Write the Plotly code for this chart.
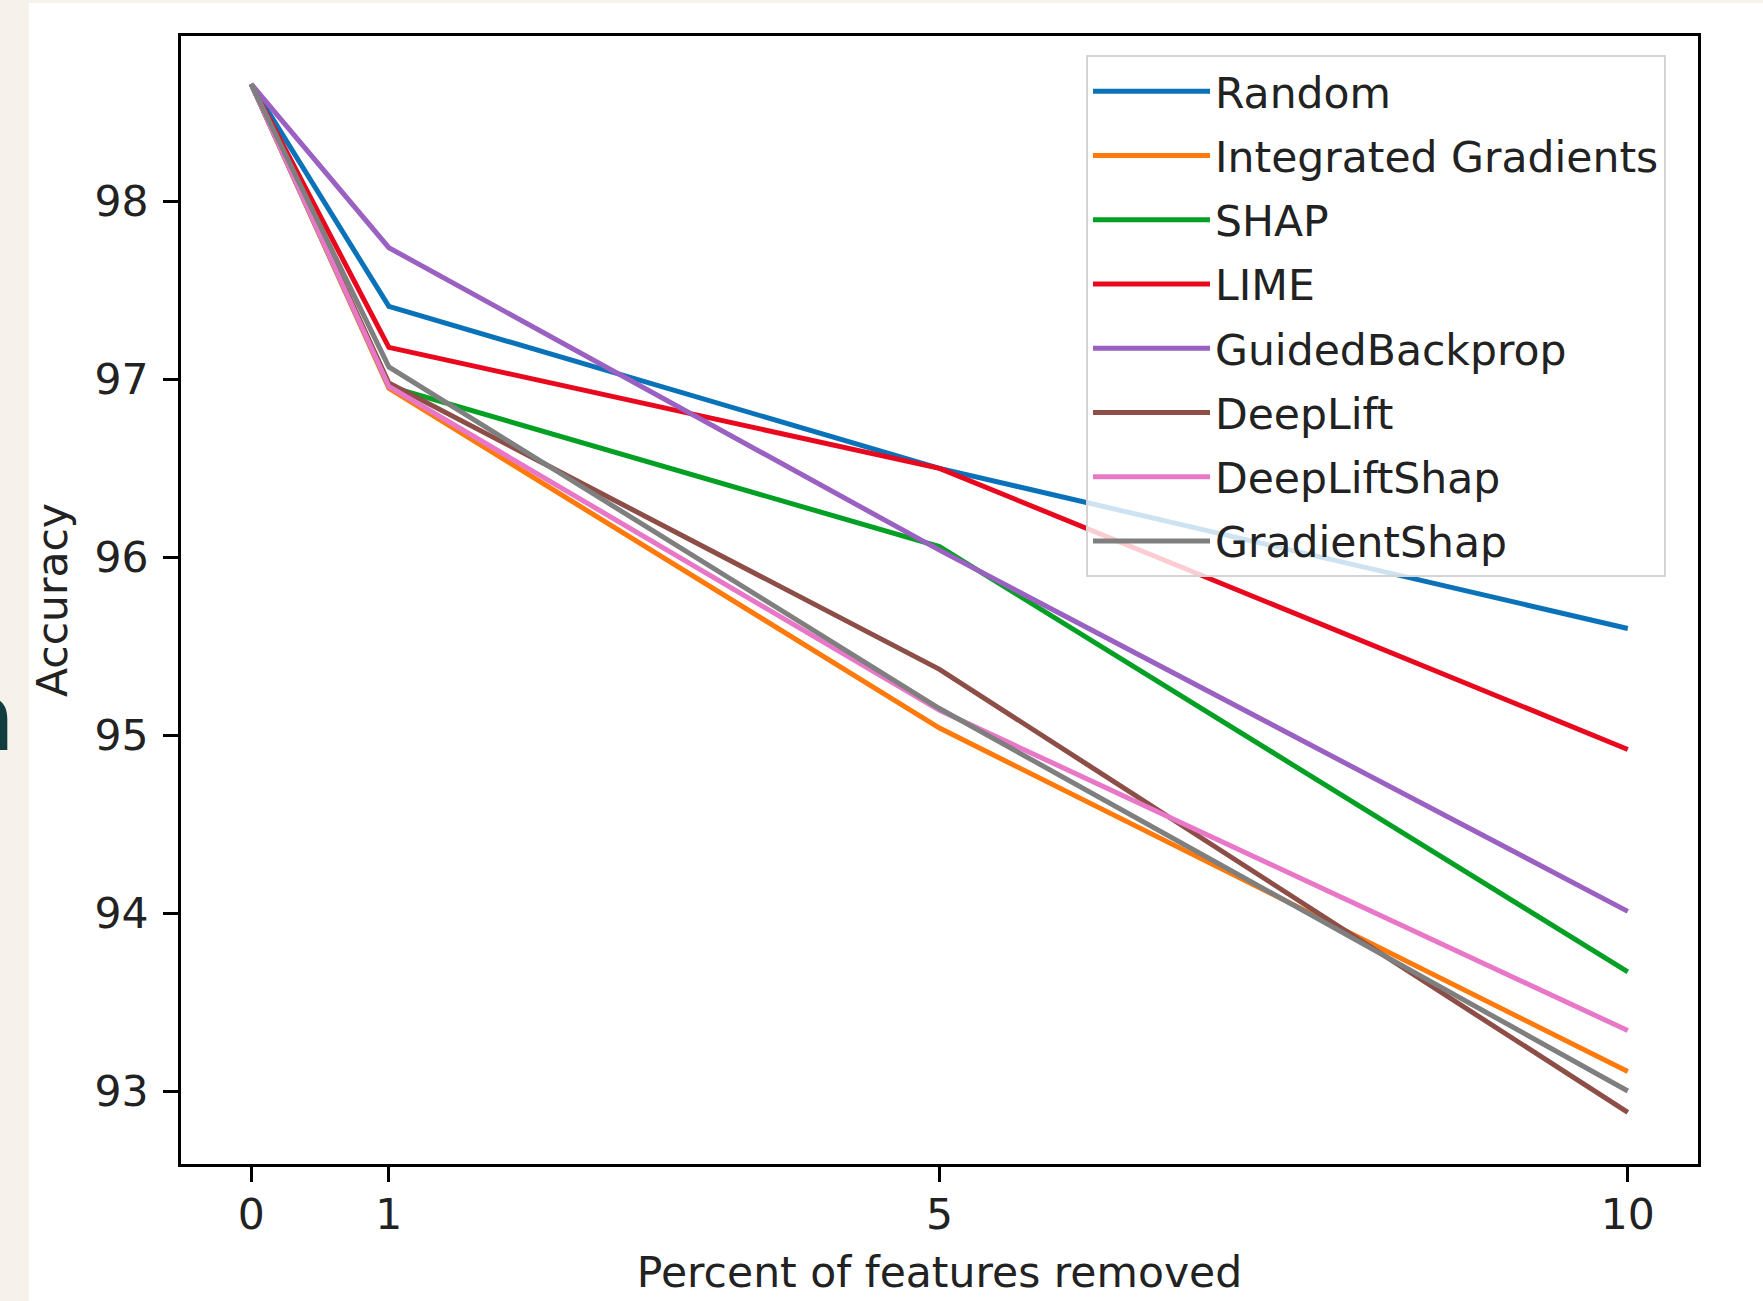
import plotly.graph_objects as go

# ---- data ----
percent_removed = [0, 1, 5, 10]
random_acc = [98.66, 97.41, 96.50, 95.60]
integrated_gradients = [98.66, 96.95, 95.04, 93.11]
shap_acc = [98.66, 96.96, 96.06, 93.67]
lime_acc = [98.66, 97.18, 96.50, 94.92]
guided_backprop = [98.66, 97.74, 96.04, 94.01]
deeplift = [98.66, 96.98, 95.37, 92.88]
deeplift_shap = [98.66, 96.96, 95.14, 93.34]
gradient_shap = [98.66, 97.07, 95.15, 93.00]

series_names = ["Random", "Integrated Gradients", "SHAP", "LIME",
                "GuidedBackprop", "DeepLift", "DeepLiftShap", "GradientShap"]
series_values = [random_acc, integrated_gradients, shap_acc, lime_acc,
                 guided_backprop, deeplift, deeplift_shap, gradient_shap]
series_colors = ["#0a72b9", "#ff7a0a", "#04a024", "#e8091f",
                 "#9a60c2", "#8c4e46", "#e877c8", "#7f7f7f"]
x_ticks = [0, 1, 5, 10]
y_ticks = [93, 94, 95, 96, 97, 98]

FONT = "DejaVu Sans"
FS = 42.5
BEIGE = "#f6f2eb"
W, H = 1763, 1301
L, R, T, B = 181, 65, 36, 137
pw, ph = W - L - R, H - T - B

fig = go.Figure()
for i, (name, vals, col) in enumerate(zip(series_names, series_values, series_colors)):
    fig.add_trace(go.Scatter(
        x=percent_removed, y=vals, mode="lines", name=name,
        line=dict(color=col, width=5), legendgroup=f"g{i}",
    ))

def px_x(p):
    return (p - L) / pw

def px_y(p):
    return (H - B - p) / ph

# white panel over beige page
fig.add_shape(type="rect", xref="paper", yref="paper", layer="below",
              x0=px_x(29), x1=px_x(1800), y0=px_y(1340), y1=px_y(3),
              fillcolor="white", line=dict(width=0))

# cropped glyph at left edge
fig.add_annotation(text="<b>n</b>", xref="paper", yref="paper",
                   x=px_x(17), y=px_y(718), xanchor="right", yanchor="middle",
                   showarrow=False, font=dict(family=FONT, size=92, color="#123d3e"))

axis_common = dict(
    showline=True, mirror=True, linecolor="black", linewidth=3,
    ticks="outside", ticklen=15, tickwidth=3, tickcolor="black",
    showgrid=False, zeroline=False,
    tickfont=dict(family=FONT, size=FS, color="#222222"),
)

fig.update_layout(
    width=W, height=H,
    margin=dict(l=L, r=R, t=T, b=B, autoexpand=False),
    paper_bgcolor=BEIGE, plot_bgcolor="white",
    font=dict(family=FONT, color="#222222"),
    showlegend=True,
    legend=dict(
        x=px_x(1086), y=px_y(55), xanchor="left", yanchor="top",
        bgcolor="rgba(255,255,255,0.8)", bordercolor="#d4d4d4", borderwidth=2,
        font=dict(family=FONT, size=FS, color="#222222"),
        traceorder="grouped", tracegroupgap=6, itemwidth=117,
    ),
    xaxis=dict(
        range=[-0.51, 10.51], tickvals=x_ticks, ticktext=[str(v) for v in x_ticks],
        title=dict(text="Percent of features removed", font=dict(family=FONT, size=FS, color="#222222"), standoff=20),
        ticklabelstandoff=-4,
        **axis_common,
    ),
    yaxis=dict(
        range=[92.59, 98.93], tickvals=y_ticks, ticktext=[str(v) for v in y_ticks],
        title=dict(text="Accuracy", font=dict(family=FONT, size=FS, color="#222222"), standoff=14),
        ticklabelstandoff=6,
        **axis_common,
    ),
)

fig.write_html(
    "out.html",
    config={"displayModeBar": False},
    post_script="document.body.style.margin='0';document.body.style.background='" + BEIGE + "';",
)
